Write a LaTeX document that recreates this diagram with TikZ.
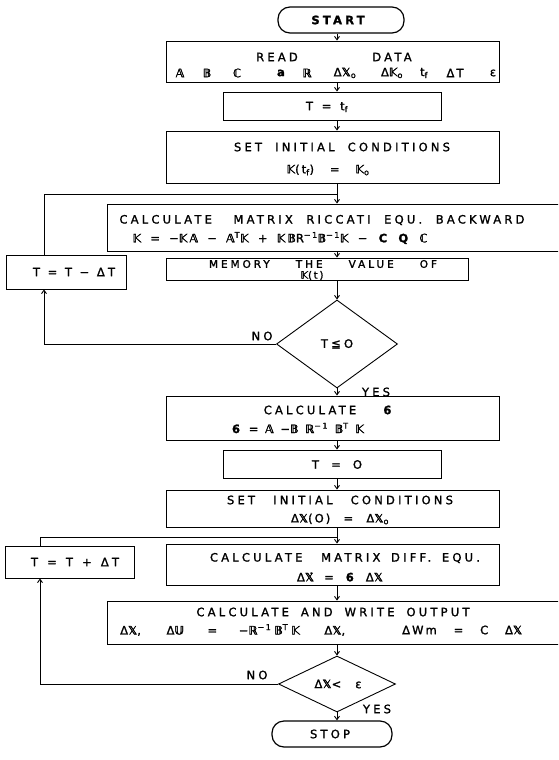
\documentclass[tikz,border=0pt]{standalone}
\usepackage{amssymb}
\usepackage{fontspec}
\setmainfont{DejaVu Sans}
\newfontfamily\lett[LetterSpace=28,FakeBold=1.5]{DejaVu Sans}
\newfontfamily\form[LetterSpace=18,FakeBold=1.5]{DejaVu Sans}
\newfontfamily\dvs[LetterSpace=18,FakeBold=2]{DejaVu Sans}
\usetikzlibrary{arrows.meta,shapes.geometric}
\newcommand{\dbl}[2]{{\dvs\iffontchar\font"#1\relax\char"#1\relax\else$\mathbb{#2}$\fi}}
\newcommand{\bA}{\dbl{1D538}{A}}
\newcommand{\bB}{\dbl{1D539}{B}}
\newcommand{\bC}{\dbl{2102}{C}}
\newcommand{\bK}{\dbl{1D542}{K}}
\newcommand{\bR}{\dbl{211D}{R}}
\newcommand{\bX}{\dbl{1D54F}{X}}
\newcommand{\bU}{\dbl{1D54C}{U}}
\newcommand{\W}[2]{\makebox[#1pt][s]{#2}}
\begin{document}
\begin{tikzpicture}[x=1pt,y=-1pt,
  box/.style={draw, line width=0.9pt, inner sep=0pt},
  term/.style={draw, line width=1.2pt, rounded corners=12pt, inner sep=0pt},
  dia/.style={draw, diamond, line width=0.9pt, inner sep=0pt},
  lt/.style={inner sep=0pt, font=\lett\fontsize{11.5}{13}\selectfont},
  sm/.style={inner sep=0pt, font=\lett\fontsize{10.5}{11}\selectfont},
  fm/.style={inner sep=0pt, font=\form\fontsize{11.5}{13}\selectfont},
  arr/.style={line width=0.9pt, -{Straight Barb[length=3.5pt,width=5pt]}},
  ln/.style={line width=0.9pt}]
\useasboundingbox (0,0) rectangle (558,760);
\clip (0,0) rectangle (558,760);
\fill[white] (0,0) rectangle (558,760);
\coordinate (sp) at (337,0);
% START
\node[term, minimum width=126pt, minimum height=26pt] (start) at (341,20) {};
\node[lt, font=\lett\fontsize{11.5}{13}\selectfont\bfseries] (startT) at (338,20) {START};
% READ DATA
\node[box, minimum width=333pt, minimum height=41pt] (read) at (332.5,61.5) {};
\node[lt] (readA) at (277,57) {READ};
\node[lt] (readB) at (392,57) {DATA};
\node[fm] (r1) at (180,73) {\bA};
\node[fm] (r2) at (207,73) {\bB};
\node[fm] (r3) at (237,73) {\bC};
\node[fm] (r4) at (282,73) {\textbf{a}};
\node[fm] (r5) at (307,73) {\bR};
\node[fm] (r6) at (345,73) {Δ\bX\textsubscript{o}};
\node[fm] (r7) at (392,73) {Δ\bK\textsubscript{o}};
\node[fm] (r8) at (424,73) {t\textsubscript{f}};
\node[fm] (r9) at (455,73) {ΔT};
\node[fm] (r10) at (493,73) {ε};
% T = tf
\node[box, minimum width=218pt, minimum height=28pt] (ttf) at (332,106) {};
\node[lt] (ttfT) at (327,107) {\W{42}{T = t\textsubscript{f}}};
% SET INITIAL 1
\node[box, minimum width=333pt, minimum height=52pt] (set1) at (332.5,157) {};
\node[lt] (set1a) at (342,147) {\W{216}{SET INITIAL CONDITIONS}};
\node[fm] (set1b) at (328,170) {\W{83}{\bK (t\textsubscript{f}) = \bK\textsubscript{o}}};
% RICCATI
\node[box, minimum width=493pt, minimum height=47pt] (ric) at (353.5,227.5) {};
\node[lt] (rica) at (322,220) {\W{405}{CALCULATE\hspace{8pt} MATRIX RICCATI EQU. BACKWARD}};
\node[fm] (ricb) at (280,238) {\W{295}{\bK{} = −\bK\bA{} − \bA\textsuperscript{T}\bK{} + \bK\bB{}R\textsuperscript{−1}\bB\textsuperscript{−1}\bK{} − \textbf{C} \textbf{Q} \bC}};
% MEMORY
\node[box, minimum width=302pt, minimum height=22pt] (mem) at (317,269) {};
\node[sm] (mema) at (323,264) {\W{228}{MEMORY THE VALUE OF}};
\node[fm, font=\form\fontsize{10}{11}\selectfont] (memb) at (312,275.5) {\bK(t)};
% T = T - dT
\node[box, minimum width=120pt, minimum height=34pt] (tm) at (66,272) {};
\node[lt] (tmT) at (74,272) {\W{82}{T = T − ΔT}};
% diamond 1
\node[dia, minimum width=121pt, minimum height=88pt] (d1) at (337,344) {};
\node[lt] (d1T) at (337,344) {T≦O};
% CALCULATE 6
\node[box, minimum width=333pt, minimum height=44pt] (c6) at (332.5,418) {};
\node[lt] (c6a) at (310,410) {CALCULATE};
\node[lt] (c6b) at (389,410) {\textbf{6}};
\node[fm] (c6c) at (298,428) {\W{132}{\textbf{6} = \bA{} −\bB{} \bR\textsuperscript{−1} \bB\textsuperscript{T} \bK}};
% T = O
\node[box, minimum width=218pt, minimum height=28pt] (t0) at (332,464) {};
\node[lt] (t0T) at (337,464.5) {\W{50}{T = O}};
% SET INITIAL 2
\node[box, minimum width=333pt, minimum height=37pt] (set2) at (332.5,508.5) {};
\node[lt] (set2a) at (340,500) {\W{226}{SET INITIAL CONDITIONS}};
\node[fm] (set2b) at (340,519) {\W{98}{Δ\bX(O) = Δ\bX\textsubscript{o}}};
% DIFF
\node[box, minimum width=333pt, minimum height=41pt] (diff) at (332.5,564.5) {};
\node[lt] (diffa) at (345,558) {\W{270}{CALCULATE\hspace{8pt} MATRIX DIFF. EQU.}};
\node[fm] (diffb) at (340,577) {\W{86}{Δ\.{\bX} = \textbf{6} Δ\bX}};
% T = T + dT
\node[box, minimum width=129pt, minimum height=32pt] (tp) at (69.5,562) {};
\node[lt] (tpT) at (75,562) {\W{88}{T = T + ΔT}};
% OUTPUT
\node[box, minimum width=493pt, minimum height=43pt] (out) at (353.5,622.5) {};
\node[lt] (outa) at (333,612) {\W{273}{CALCULATE AND WRITE OUTPUT}};
\node[fm, anchor=west] (outb) at (120,630) {\W{225}{Δ\bX,\hspace{4pt} Δ\bU\hspace{2pt} = −\bR\textsuperscript{−1}\hspace{3pt}\bB\textsuperscript{T}\hspace{3pt}\bK\hspace{3pt} Δ\bX,}};
\node[fm, anchor=west] (outc) at (402,630) {\W{120}{ΔWm = C Δ\bX}};
% diamond 2
\node[dia, minimum width=117pt, minimum height=56pt] (d2) at (337,684) {};
\node[lt] (d2T) at (338,684) {\W{47}{Δ\bX< ε}};
% STOP
\node[term, minimum width=120pt, minimum height=26pt] (stop) at (332,734) {};
\node[lt] (stopT) at (330,734) {STOP};
% labels
\node[lt] (no1) at (262,336) {NO};
\node[lt] (yes1) at (376,392) {YES};
\node[lt] (no2) at (257,675) {NO};
\node[lt] (yes2) at (377,709) {YES};
% spine connectors
\draw[arr] (start.south -| sp) -- (read.north -| sp);
\draw[arr] (read.south -| sp) -- (ttf.north -| sp);
\draw[arr] (ttf.south -| sp) -- (set1.north -| sp);
\draw[arr] (set1.south -| sp) -- (ric.north -| sp);
\draw[arr] (ric.south -| sp) -- (mem.north -| sp);
\draw[arr] (mem.south -| sp) -- (d1.north);
\draw[arr] (d1.south) -- (c6.north -| sp);
\draw[arr] (c6.south -| sp) -- (t0.north -| sp);
\draw[arr] (t0.south -| sp) -- (set2.north -| sp);
\draw[arr] (set2.south -| sp) -- (diff.north -| sp);
\draw[arr] (diff.south -| sp) -- (out.north -| sp);
\draw[arr] (out.south -| sp) -- (d2.north);
\draw[arr] (d2.south) -- (stop.north -| sp);
% feedback loop 1
\coordinate (fa) at (44,0);
\coordinate (j1) at (337,194);
\draw[arr] (d1.west) -- (d1.west -| fa) -- (tm.south -| fa);
\draw[ln] (tm.north -| fa) -- (fa |- j1) -- (j1);
% feedback loop 2
\coordinate (fb) at (40,0);
\coordinate (j2) at (337,537);
\draw[arr] (d2.west) -- (d2.west -| fb) -- (tp.south -| fb);
\draw[ln] (tp.north -| fb) -- (fb |- j2) -- (j2);
\end{tikzpicture}
\end{document}
